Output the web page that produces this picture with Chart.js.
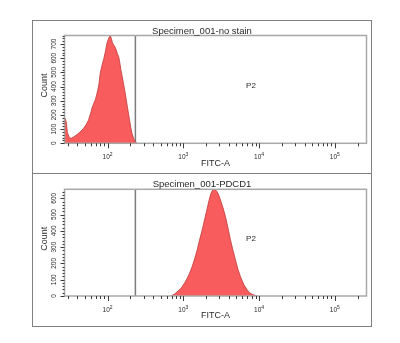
<!DOCTYPE html>
<html><head><meta charset="utf-8">
<script src="https://cdn.jsdelivr.net/npm/chart.js@4.4.1/dist/chart.umd.min.js"></script>
<style>
html,body{margin:0;padding:0;background:#fff;}
#frame{position:absolute;left:32px;top:20px;width:340px;height:307px;box-sizing:border-box;border:1px solid #808080;}
#sep{position:absolute;left:32px;top:173px;width:340px;height:1px;background:#808080;}
.pane{position:absolute;left:33px;width:338px;height:152px;}
</style></head><body>
<div id="frame"></div><div id="sep"></div>
<div class="pane" style="top:21px"><canvas id="c1" width="338" height="152"></canvas></div>
<div class="pane" style="top:174px"><canvas id="c2" width="338" height="152"></canvas></div>
<script>
// ---- data ----
const xRange = [27, 262144];
const gateX = 233;
const gateName = "P2";
const xAxisTitle = "FITC-A";
const yAxisTitle = "Count";
const xDecades = [100, 1000, 10000, 100000];
const xDecadeExponents = ["2", "3", "4", "5"];

const title1 = "Specimen_001-no stain";
const yMax1 = 760;
const yTicks1 = [0, 100, 200, 300, 400, 500, 600, 700];
const fitc1 = [27.3, 28.5, 29.5, 31.4, 33, 35.5, 38, 41.3, 45, 48.2, 52, 56.1, 60, 62.2, 66, 68.8, 74, 77, 80, 84, 88.5, 93, 98.2, 104, 108.6, 112, 116, 120, 125, 130, 135, 140, 145, 150, 160, 171, 183, 195, 203, 210, 222, 232, 245];
const count1 = [180, 150, 75, 40, 35, 45, 55, 70, 88, 106, 130, 165, 215, 247, 285, 306, 370, 420, 495, 545, 589, 640, 707, 745, 760, 740, 710, 695, 680, 660, 630, 612, 570, 518, 440, 354, 255, 165, 110, 71, 30, 11, 0];

const title2 = "Specimen_001-PDCD1";
const yMax2 = 655;
const yTicks2 = [0, 100, 200, 300, 400, 500, 600];
const fitc2 = [675, 760, 828, 900, 964, 1040, 1122, 1210, 1307, 1410, 1523, 1640, 1774, 1910, 2066, 2180, 2282, 2400, 2524, 2650, 2797, 2950, 3096, 3350, 3606, 3900, 4198, 4530, 4889, 5250, 5688, 6300, 6983, 7500, 8130, 9464];
const count2 = [0, 10, 26, 40, 57, 80, 108, 140, 180, 228, 282, 345, 405, 470, 538, 585, 620, 645, 655, 652, 640, 618, 589, 540, 487, 415, 344, 280, 221, 165, 118, 70, 37, 20, 10, 0];

// ---- helpers ----
const FONT = '"Liberation Sans", Arial, sans-serif';
const TXT = '#2a2a2a';

function minorLogTicks(min, max) {
  const out = [];
  for (let e = 1; e <= 5; e++) {
    for (let m = 2; m <= 9; m++) {
      const v = m * Math.pow(10, e);
      if (v >= min && v <= max) out.push(v);
    }
  }
  return out;
}

const decor = {
  id: 'decor',
  afterDatasetsDraw(chart, args, opts) {
    const {ctx, chartArea: a} = chart;
    const x = chart.scales.x, y = chart.scales.y;
    ctx.save();
    // plot frame
    ctx.strokeStyle = '#a8a8a8'; ctx.lineWidth = 1.5;
    ctx.strokeRect(a.left, a.top, a.right - a.left, a.bottom - a.top);
    // x ticks
    ctx.strokeStyle = '#3a3a3a'; ctx.lineWidth = 1;
    ctx.beginPath();
    for (const v of minorLogTicks(x.min, x.max)) {
      const px = Math.round(x.getPixelForValue(v)) + 0.5;
      ctx.moveTo(px, a.bottom); ctx.lineTo(px, a.bottom + 3);
    }
    for (const v of xDecades) {
      const px = Math.round(x.getPixelForValue(v)) + 0.5;
      ctx.moveTo(px, a.bottom); ctx.lineTo(px, a.bottom + 5);
    }
    // y ticks
    for (let v = 0; v <= y.max; v += 20) {
      const py = Math.round(y.getPixelForValue(v)) + 0.5;
      const len = (v % 100 === 0) ? 4 : 2;
      ctx.moveTo(a.left, py); ctx.lineTo(a.left - len, py);
    }
    ctx.stroke();
    // x tick labels
    ctx.fillStyle = TXT;
    ctx.textBaseline = 'alphabetic';
    xDecades.forEach((v, i) => {
      const px = x.getPixelForValue(v);
      ctx.font = '6.5px ' + FONT;
      const w1 = ctx.measureText('10').width;
      ctx.font = '5px ' + FONT;
      const w2 = ctx.measureText(xDecadeExponents[i]).width;
      const start = px - (w1 + w2) / 2;
      ctx.font = '6.5px ' + FONT;
      ctx.textAlign = 'left';
      ctx.fillText('10', start, a.bottom + 16);
      ctx.font = '5px ' + FONT;
      ctx.fillText(xDecadeExponents[i], start + w1, a.bottom + 13);
    });
    // y tick labels (rotated)
    ctx.font = '6.5px ' + FONT;
    ctx.textAlign = 'center'; ctx.textBaseline = 'middle';
    for (const v of opts.yTicks) {
      const py = y.getPixelForValue(v);
      ctx.save();
      ctx.translate(a.left - 10.5, py);
      ctx.rotate(-Math.PI / 2);
      ctx.fillText(String(v), 0, 0);
      ctx.restore();
    }
    // axis titles
    ctx.font = '9px ' + FONT;
    ctx.fillText(xAxisTitle, (a.left + a.right) / 2, a.bottom + 20);
    ctx.save();
    ctx.translate(a.left - 19.5, (a.top + a.bottom) / 2 - 4);
    ctx.rotate(-Math.PI / 2);
    ctx.fillText(yAxisTitle, 0, 0);
    ctx.restore();
    // chart title
    ctx.font = '9.5px ' + FONT;
    ctx.fillText(opts.title, chart.width / 2, 10.5);
    // gate label
    ctx.font = '8px ' + FONT;
    const gx = x.getPixelForValue(gateX);
    ctx.fillText(gateName, (gx + a.right) / 2, (a.top + a.bottom) / 2 - 4);
    ctx.restore();
  }
};

function makeChart(id, xs, ys, yMax, yTicks, title, padTop, padBottom) {
  const pts = xs.map((v, i) => ({x: v, y: ys[i]}));
  return new Chart(document.getElementById(id), {
    type: 'line',
    data: {
      datasets: [
        {data: pts, fill: 'origin', backgroundColor: '#f95c5c', borderColor: '#c23a3a', borderWidth: 0.8, pointRadius: 0, tension: 0},
        {data: [{x: gateX, y: 0}, {x: gateX, y: yMax}], fill: false, borderColor: '#7c7c7c', borderWidth: 1.5, pointRadius: 0}
      ]
    },
    options: {
      responsive: false,
      animation: false,
      devicePixelRatio: 1,
      layout: {padding: {left: 31.5, right: 4.5, top: padTop, bottom: padBottom}},
      plugins: {legend: {display: false}, tooltip: {enabled: false}, decor: {title: title, yTicks: yTicks}},
      scales: {
        x: {type: 'logarithmic', min: xRange[0], max: xRange[1], display: false},
        y: {type: 'linear', min: 0, max: yMax, display: false}
      }
    },
    plugins: [decor]
  });
}

makeChart('c1', fitc1, count1, yMax1, yTicks1, title1, 14.5, 29.7);
makeChart('c2', fitc2, count2, yMax2, yTicks2, title2, 15.3, 30);
</script>
</body></html>
